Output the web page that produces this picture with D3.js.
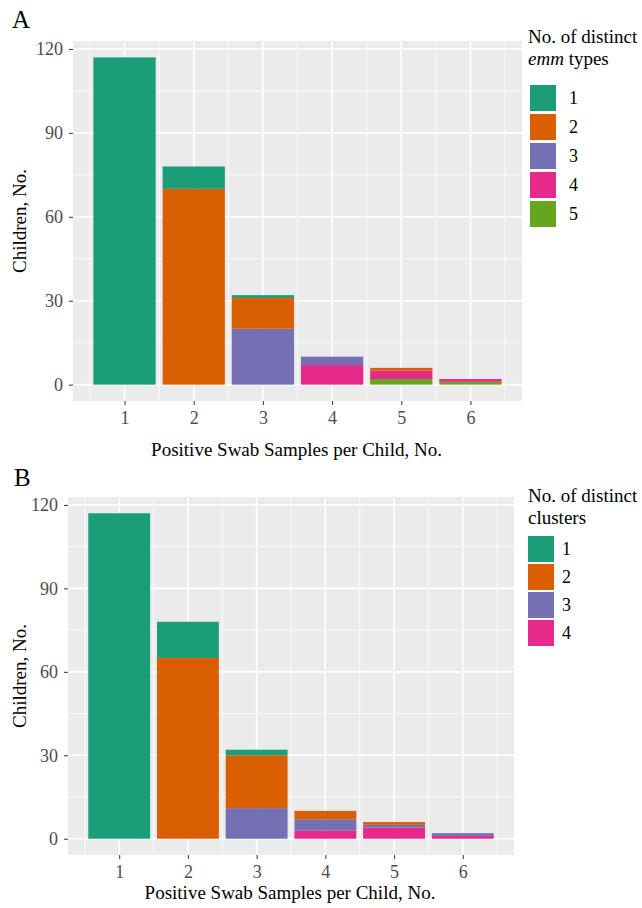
<!DOCTYPE html>
<html>
<head>
<meta charset="utf-8">
<script src="https://cdn.jsdelivr.net/npm/d3@7"></script>
<style>
  body { margin: 0; background: #fff; }
  svg text { font-family: "Liberation Serif", "DejaVu Serif", serif; }
</style>
</head>
<body>
<div id="chart"></div>
<script>
// samples per child (x categories)
const samples = [1, 2, 3, 4, 5, 6];

// Panel A: children by number of distinct emm types
const emmKeys = ["1", "2", "3", "4", "5"];
const emm1 = [117, 8, 1, 0, 0, 0];
const emm2 = [0, 70, 11, 0, 1, 0];
const emm3 = [0, 0, 20, 3, 0, 0];
const emm4 = [0, 0, 0, 7, 3, 1];
const emm5 = [0, 0, 0, 0, 2, 1];

// Panel B: children by number of distinct clusters
const clusterKeys = ["1", "2", "3", "4"];
const cl1 = [117, 13, 2, 0, 0, 0];
const cl2 = [0, 65, 19, 3, 1, 0];
const cl3 = [0, 0, 11, 4, 1, 1];
const cl4 = [0, 0, 0, 3, 4, 1];

const yTicks = [0, 30, 60, 90, 120];
const colors = ["#1B9E77", "#D95F02", "#7570B3", "#E7298A", "#66A61E"];

const svg = d3.select('#chart').append('svg')
    .attr('width', 642)
    .attr('height', 908);

function drawPanel(opt) {
    const g = svg.append('g');
    const rows = samples.map((s, i) => {
        const r = { s };
        opt.keys.forEach((k, j) => r[k] = opt.series[j][i]);
        return r;
    });
    // level 1 on top, highest level at the bottom (ggplot order)
    const stack = d3.stack().keys(opt.keys.slice().reverse())(rows);
    const maxY = d3.max(rows, r => d3.sum(opt.keys, k => r[k]));

    const x = d3.scaleLinear()
        .domain([0.55 - 0.295, 6.45 + 0.295])
        .range([opt.left, opt.right]);
    const y = d3.scaleLinear()
        .domain([-maxY * 0.05, maxY * 1.05])
        .range([opt.bottom, opt.top]);

    g.append('rect')
        .attr('x', opt.left).attr('y', opt.top)
        .attr('width', opt.right - opt.left).attr('height', opt.bottom - opt.top)
        .attr('fill', '#EBEBEB');

    // minor grid
    [15, 45, 75, 105].forEach(v => {
        g.append('line').attr('x1', opt.left).attr('x2', opt.right)
            .attr('y1', y(v)).attr('y2', y(v))
            .attr('stroke', '#fff').attr('stroke-width', 0.8);
    });
    [0.5, 1.5, 2.5, 3.5, 4.5, 5.5, 6.5].forEach(v => {
        g.append('line').attr('y1', opt.top).attr('y2', opt.bottom)
            .attr('x1', x(v)).attr('x2', x(v))
            .attr('stroke', '#fff').attr('stroke-width', 0.8);
    });
    // major grid
    yTicks.forEach(v => {
        g.append('line').attr('x1', opt.left).attr('x2', opt.right)
            .attr('y1', y(v)).attr('y2', y(v))
            .attr('stroke', '#fff').attr('stroke-width', 1.6);
    });
    samples.forEach(v => {
        g.append('line').attr('y1', opt.top).attr('y2', opt.bottom)
            .attr('x1', x(v)).attr('x2', x(v))
            .attr('stroke', '#fff').attr('stroke-width', 1.6);
    });

    // bars
    const bw = (x(2) - x(1)) * 0.9;
    g.append('g').selectAll('g')
        .data(stack)
        .enter().append('g')
        .attr('fill', d => colors[opt.keys.indexOf(d.key)])
        .selectAll('rect')
        .data(d => d)
        .enter().append('rect')
        .attr('x', d => x(d.data.s) - bw / 2)
        .attr('width', bw)
        .attr('y', d => y(d[1]))
        .attr('height', d => y(d[0]) - y(d[1]));

    // axes
    const ax = g.append('g')
        .attr('transform', `translate(0,${opt.bottom})`)
        .call(d3.axisBottom(x).tickValues(samples).tickFormat(d3.format('d')).tickSize(4).tickPadding(6));
    const ay = g.append('g')
        .attr('transform', `translate(${opt.left},0)`)
        .call(d3.axisLeft(y).tickValues(yTicks).tickFormat(d3.format('d')).tickSize(4).tickPadding(6));
    [ax, ay].forEach(a => {
        a.attr('font-family', null).attr('font-size', null);
        a.select('.domain').remove();
        a.selectAll('line').attr('stroke', '#333');
        a.selectAll('text').attr('fill', '#4D4D4D').style('font-size', '18px');
    });

    g.append('text')
        .attr('x', (opt.left + opt.right) / 2 - 1)
        .attr('y', opt.xTitleY)
        .attr('text-anchor', 'middle')
        .style('font-size', '19px')
        .text('Positive Swab Samples per Child, No.');
    g.append('text')
        .attr('transform', `translate(26,${(opt.top + opt.bottom) / 2}) rotate(-90)`)
        .attr('text-anchor', 'middle')
        .style('font-size', '19px')
        .text('Children, No.');
    g.append('text')
        .attr('x', opt.labelX).attr('y', opt.labelY)
        .style('font-size', '25px')
        .text(opt.label);

    // legend
    const lg = g.append('g').attr('transform', `translate(528,${opt.legendTop})`);
    lg.append('text').attr('y', 0).style('font-size', '19px').text('No. of distinct');
    const t2 = lg.append('text').attr('y', 22).style('font-size', '19px');
    opt.title2.forEach(p => t2.append('tspan').style('font-style', p.italic ? 'italic' : 'normal').text(p.t));
    opt.keys.forEach((k, i) => {
        lg.append('rect')
            .attr('x', opt.keyX).attr('y', opt.keyTop + i * opt.keyStep)
            .attr('width', opt.keySize).attr('height', opt.keySize)
            .attr('fill', colors[i]);
        lg.append('text')
            .attr('x', opt.keyX + opt.keySize + opt.keyGap)
            .attr('y', opt.keyTop + i * opt.keyStep + opt.keySize / 2)
            .attr('dy', '0.35em')
            .style('font-size', '18px')
            .text(k);
    });
}

drawPanel({
    label: 'A', keys: emmKeys, series: [emm1, emm2, emm3, emm4, emm5],
    left: 73, right: 522, top: 41, bottom: 401, xTitleY: 456,
    labelX: 12, labelY: 28,
    legendTop: 43, keyX: 2, keyTop: 42, keyStep: 29, keySize: 26, keyGap: 13,
    title2: [{ t: 'emm', italic: true }, { t: ' types' }]
});
drawPanel({
    label: 'B', keys: clusterKeys, series: [cl1, cl2, cl3, cl4],
    left: 68, right: 514, top: 497, bottom: 855, xTitleY: 899,
    labelX: 14, labelY: 486,
    legendTop: 502, keyX: 0, keyTop: 34, keyStep: 28, keySize: 26, keyGap: 8,
    title2: [{ t: 'clusters' }]
});
</script>
</body>
</html>
